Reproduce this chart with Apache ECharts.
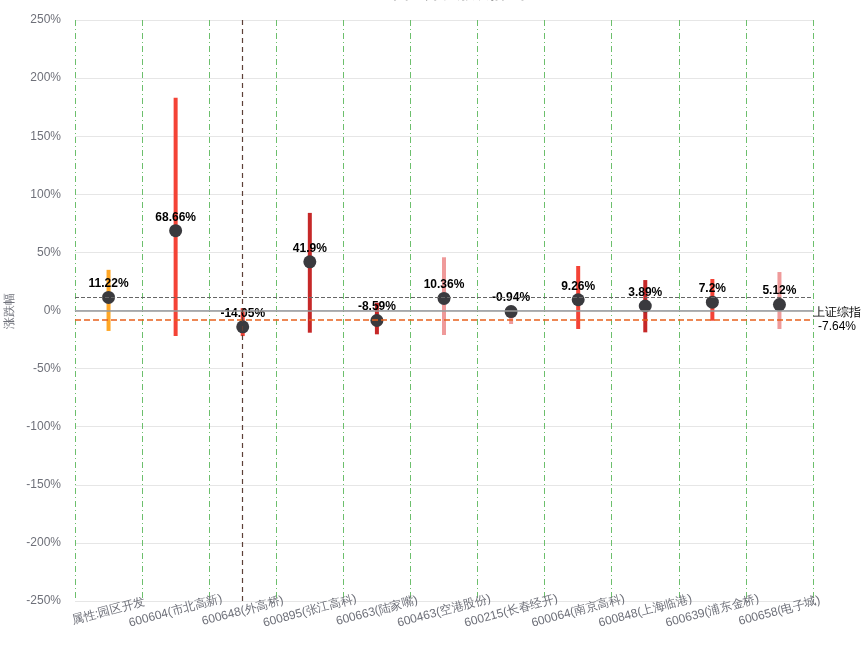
<!DOCTYPE html>
<html>
<head>
<meta charset="utf-8">
<script src="https://cdn.jsdelivr.net/npm/echarts@6/dist/echarts.min.js"></script>
<style>html,body{margin:0;padding:0;background:#fff}#c{width:863px;height:647px}</style>
</head>
<body>
<div id="c"></div>
<script>
var categories = ['属性:园区开发','600604(市北高新)','600648(外高桥)','600895(张江高科)','600663(陆家嘴)','600463(空港股份)','600215(长春经开)','600064(南京高科)','600848(上海临港)','600639(浦东金桥)','600658(电子城)'];
var values = [11.22, 68.66, -14.05, 41.9, -8.59, 10.36, -0.94, 9.26, 3.89, 7.2, 5.12];
var maxs = [35, 183, 2, 84, 6.7, 45.8, 3, 38.3, 26.2, 27.1, 33.1];
var mins = [-17.6, -21.9, -22, -19.1, -20.5, -21.1, -11.6, -15.9, -18.8, -8.8, -15.9];
var indexName = '上证综指';
var indexValue = -7.64;
var highlightCategory = '600648(外高桥)';
var yTicks = [-250, 250, 50];

var palette = {orange:'#FFA726', red:'#F44336', dark:'#C62828', pink:'#EF9A9A'};
var rangeColors = [palette.orange, palette.red, palette.red, palette.dark, palette.dark, palette.pink, palette.pink, palette.red, palette.dark, palette.red, palette.pink];

var chart = echarts.init(document.getElementById('c'));
chart.setOption({
  animation: false,
  title: {
    text: '园区开发涨跌幅  年',
    left: 388, top: -19,
    textStyle: {fontSize: 16, fontWeight: 'bold', color: '#464646'}
  },
  grid: {left: 75, right: 50, top: 20, bottom: 46, outerBoundsMode: 'none', containLabel: false},
  xAxis: {
    type: 'category',
    data: categories,
    boundaryGap: true,
    axisLine: {lineStyle: {color: '#CCD6EB'}},
    axisTick: {show: false},
    axisLabel: {rotate: 15, align: 'center', verticalAlign: 'middle', margin: 10, color: '#6E7079', fontSize: 12, interval: 0},
    splitLine: {show: true, lineStyle: {color: '#6CBF6C', type: [6, 3, 1, 3], width: 1}}
  },
  yAxis: {
    type: 'value',
    min: yTicks[0], max: yTicks[1], interval: yTicks[2],
    name: '涨跌幅',
    nameLocation: 'middle',
    nameGap: 58,
    nameTextStyle: {color: '#6E7079', fontSize: 12},
    axisLine: {show: false},
    axisTick: {show: false},
    axisLabel: {formatter: '{value}%', color: '#6E7079', fontSize: 12, margin: 14},
    splitLine: {lineStyle: {color: '#E6E6E6'}}
  },
  series: [
    {
      type: 'custom',
      data: categories.map(function (c, i) { return [i, mins[i], maxs[i]]; }),
      encode: {x: 0, y: [1, 2]},
      renderItem: function (params, api) {
        var x = api.value(0);
        var lo = api.coord([x, api.value(1)]);
        var hi = api.coord([x, api.value(2)]);
        return {
          type: 'line',
          shape: {x1: lo[0], y1: lo[1], x2: hi[0], y2: hi[1]},
          style: {stroke: rangeColors[params.dataIndex], lineWidth: 4}
        };
      },
      z: 2
    },
    {
      type: 'scatter',
      data: values,
      symbolSize: 13,
      itemStyle: {color: '#3A3A3E', opacity: 1},
      label: {
        show: true, position: 'top', distance: 1,
        formatter: function (p) { return p.value + '%'; },
        color: '#000', fontWeight: 'bold', fontSize: 12
      },
      z: 4,
      markLine: {
        silent: true,
        symbol: 'none',
        animation: false,
        data: [
          {yAxis: values[0], lineStyle: {color: '#666', type: 'dashed', width: 1}, label: {show: false}},
          {yAxis: 0, lineStyle: {color: '#999', type: 'solid', width: 1.5}, label: {show: false}},
          {yAxis: indexValue, lineStyle: {color: '#E8601C', type: 'dashed', width: 1.5},
            label: {show: true, position: 'end', distance: 24, align: 'center', formatter: indexName + '\n' + indexValue + '%', color: '#000', fontSize: 12, lineHeight: 14}},
          {xAxis: highlightCategory, lineStyle: {color: '#5D4037', type: [5, 4], width: 1.2}, label: {show: false}}
        ]
      }
    }
  ]
});
</script>
</body>
</html>
